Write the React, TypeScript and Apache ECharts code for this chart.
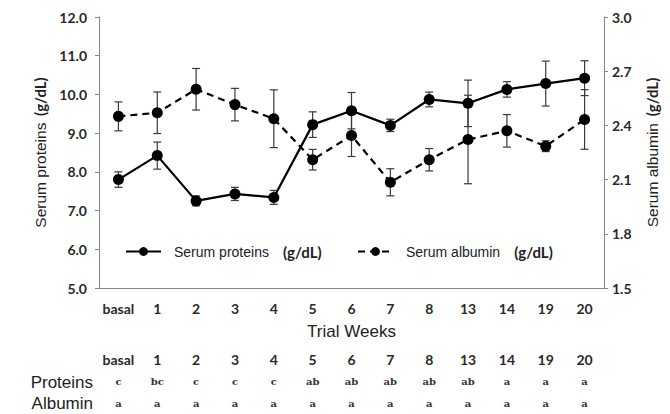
import React, { useEffect, useRef } from "react";
import * as echarts from "echarts";

const categories = ["basal", "1", "2", "3", "4", "5", "6", "7", "8", "13", "14", "19", "20"];
const proteinMean = [7.8, 8.42, 7.25, 7.43, 7.34, 9.22, 9.58, 9.2, 9.87, 9.77, 10.13, 10.28, 10.42];
const proteinErr = [0.2, 0.35, 0.13, 0.17, 0.18, 0.33, 0.47, 0.16, 0.19, 0.6, 0.2, 0.58, 0.45];
const albuminMean = [2.45, 2.47, 2.6, 2.515, 2.437, 2.21, 2.344, 2.085, 2.21, 2.322, 2.37, 2.285, 2.433];
const albuminErr = [0.08, 0.115, 0.115, 0.09, 0.16, 0.057, 0.116, 0.075, 0.062, 0.245, 0.09, 0.03, 0.165];
const proteinLetters = ["c", "bc", "c", "c", "c", "ab", "ab", "ab", "ab", "ab", "a", "a", "a"];
const albuminLetters = ["a", "a", "a", "a", "a", "a", "a", "a", "a", "a", "a", "a", "a"];
const leftRange = { min: 5, max: 12, interval: 1 };
const rightRange = { min: 1.5, max: 3.0, interval: 0.3 };

const AXIS_GRAY = "#858585";
const TEXT = "#222";
const BOLD = { fontFamily: "Lato", fontWeight: "bold" as const, fontSize: 14, color: "#2a2a2a" };

function errorData(mean: number[], err: number[]) {
  return mean.map((m, i) => [i, m - err[i], m + err[i]]);
}

function renderErr(params: any, api: any) {
  const x = api.value(0);
  const lo = api.coord([x, api.value(1)]);
  const hi = api.coord([x, api.value(2)]);
  const w = 4;
  const st = { stroke: "#3a3a3a", lineWidth: 1.2 };
  return {
    type: "group",
    children: [
      { type: "line", shape: { x1: lo[0], y1: lo[1], x2: hi[0], y2: hi[1] }, style: st },
      { type: "line", shape: { x1: lo[0] - w, y1: lo[1], x2: lo[0] + w, y2: lo[1] }, style: st },
      { type: "line", shape: { x1: hi[0] - w, y1: hi[1], x2: hi[0] + w, y2: hi[1] }, style: st },
    ],
  };
}

export default function App() {
  const ref = useRef<HTMLDivElement>(null);
  useEffect(() => {
    if (!ref.current) return;
    const chart = echarts.init(ref.current, undefined, { renderer: "svg" });
    const legendRich = {
      a: { fontFamily: "Liberation Sans", fontSize: 14, color: TEXT, padding: [0, 14, 0, 8] },
      b: { fontFamily: "Lato", fontWeight: "bold", fontSize: 15, color: TEXT },
    };
    const nameRich = {
      a: { fontFamily: "Liberation Sans", fontSize: 15.5, color: TEXT },
      b: { fontFamily: "Lato", fontWeight: "bold", fontSize: 15, color: TEXT },
    };
    const hiddenAxis = (offset: number, fmt: (v: any, i: number) => string, style: any) => ({
      type: "category",
      gridIndex: 0,
      data: categories,
      position: "bottom",
      offset,
      axisLine: { show: false },
      axisTick: { show: false },
      splitLine: { show: false },
      axisLabel: { interval: 0, margin: 0, formatter: fmt, ...style },
    });
    chart.setOption({
      animation: false,
      backgroundColor: "#fff",
      grid: { left: 99, right: 66, top: 17, bottom: 126, containLabel: false, outerBoundsMode: "none" },
      legend: [
        {
          data: ["Serum proteins"],
          left: 125,
          top: 244,
          padding: 0,
          itemWidth: 35,
          itemHeight: 11,
          formatter: (n: string) => `{a|${n}}{b|(g/dL)}`,
          textStyle: { rich: legendRich },
        },
        {
          data: ["Serum albumin"],
          left: 357,
          top: 244,
          padding: 0,
          itemWidth: 35,
          itemHeight: 11,
          formatter: (n: string) => `{a|${n}}{b|(g/dL)}`,
          textStyle: { rich: legendRich },
        },
      ],
      xAxis: [
        {
          type: "category",
          data: categories,
          position: "bottom",
          axisLine: { onZero: false, lineStyle: { color: AXIS_GRAY, width: 1 } },
          axisTick: { inside: false, length: 4, lineStyle: { color: AXIS_GRAY } },
          splitLine: { show: false },
          axisLabel: { interval: 0, margin: 13, ...BOLD },
          name: "Trial Weeks",
          nameLocation: "middle",
          nameGap: 35,
          nameTextStyle: { fontFamily: "Liberation Sans", fontSize: 17, color: TEXT },
        },
        hiddenAxis(64, (v: any) => String(v), BOLD),
        hiddenAxis(88, (_v: any, i: number) => proteinLetters[i], {
          fontFamily: "DejaVu Serif",
          fontWeight: "bold",
          fontSize: 10,
          color: "#333",
        }),
        hiddenAxis(110, (_v: any, i: number) => albuminLetters[i], {
          fontFamily: "DejaVu Serif",
          fontWeight: "bold",
          fontSize: 10,
          color: "#333",
        }),
      ],
      yAxis: [
        {
          type: "value",
          position: "left",
          ...leftRange,
          axisLine: { show: true, lineStyle: { color: AXIS_GRAY, width: 1 } },
          axisTick: { show: true, inside: false, length: 4, lineStyle: { color: AXIS_GRAY } },
          splitLine: { show: false },
          axisLabel: { margin: 12, formatter: (v: number) => v.toFixed(1), ...BOLD },
          name: "{a|Serum proteins}  {b|(g/dL)}",
          nameLocation: "middle",
          nameRotate: 90,
          nameGap: 48,
          nameTextStyle: { rich: nameRich },
        },
        {
          type: "value",
          position: "right",
          ...rightRange,
          axisLine: { show: true, lineStyle: { color: AXIS_GRAY, width: 1 } },
          axisTick: { show: true, inside: false, length: 4, lineStyle: { color: AXIS_GRAY } },
          splitLine: { show: false },
          axisLabel: { margin: 8, formatter: (v: number) => v.toFixed(1), ...BOLD },
          name: "{a|Serum albumin}  {b|(g/dL)}",
          nameLocation: "middle",
          nameRotate: 90,
          nameGap: 40,
          nameTextStyle: { rich: nameRich },
        },
      ],
      graphic: [
        {
          type: "text",
          x: 93,
          y: 382,
          style: { text: "Proteins", align: "right", verticalAlign: "middle", font: "17px 'Liberation Sans'", fill: TEXT },
        },
        {
          type: "text",
          x: 93,
          y: 403,
          style: { text: "Albumin", align: "right", verticalAlign: "middle", font: "17px 'Liberation Sans'", fill: TEXT },
        },
      ],
      series: [
        {
          type: "custom",
          name: "proteinErr",
          xAxisIndex: 0,
          yAxisIndex: 0,
          renderItem: renderErr,
          data: errorData(proteinMean, proteinErr),
          encode: { x: 0, y: [1, 2] },
          z: 1,
        },
        {
          type: "custom",
          name: "albuminErr",
          xAxisIndex: 0,
          yAxisIndex: 1,
          renderItem: renderErr,
          data: errorData(albuminMean, albuminErr),
          encode: { x: 0, y: [1, 2] },
          z: 1,
        },
        {
          type: "line",
          name: "Serum proteins",
          xAxisIndex: 0,
          yAxisIndex: 0,
          data: proteinMean,
          symbol: "circle",
          symbolSize: 11,
          itemStyle: { color: "#000" },
          lineStyle: { color: "#000", width: 2.2 },
          z: 3,
        },
        {
          type: "line",
          name: "Serum albumin",
          xAxisIndex: 0,
          yAxisIndex: 1,
          data: albuminMean,
          symbol: "circle",
          symbolSize: 11,
          itemStyle: { color: "#000" },
          lineStyle: { color: "#000", width: 2.2, type: [7, 5] },
          z: 3,
        },
      ],
    });
    return () => chart.dispose();
  }, []);
  return <div ref={ref} style={{ position: "fixed", left: 0, top: 0, width: 670, height: 414 }} />;
}
